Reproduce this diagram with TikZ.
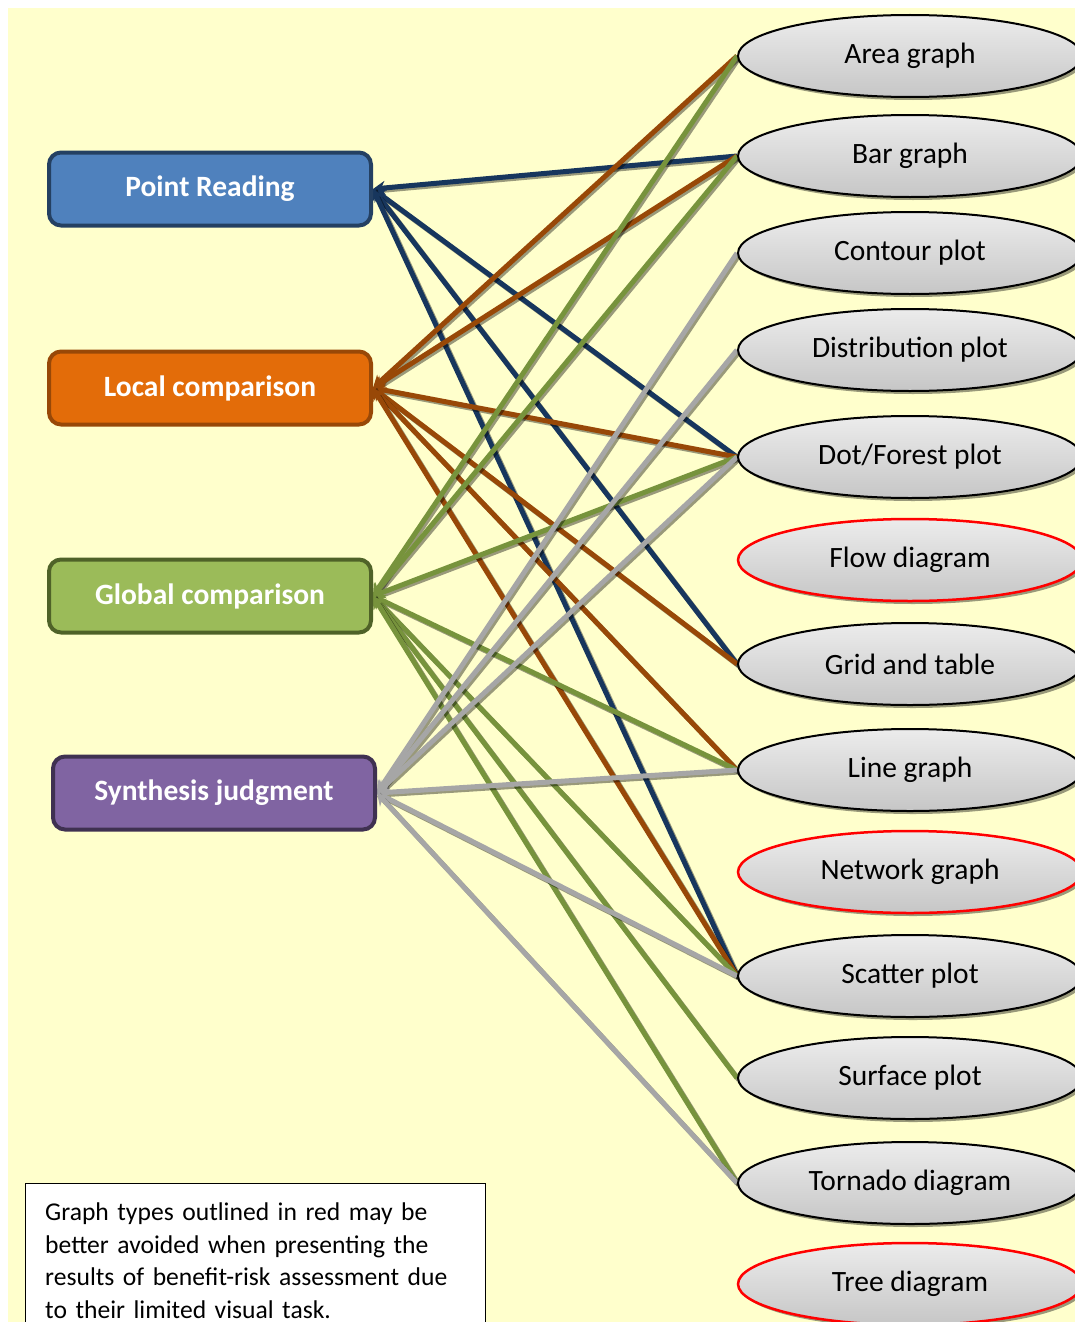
\documentclass[tikz,border=0pt]{standalone}
\usepackage{fontspec}
\setmainfont{Carlito}
\usetikzlibrary{shapes.geometric,arrows.meta,shadows}
\pgfdeclarelayer{bg}\pgfdeclarelayer{lines}\pgfsetlayers{bg,lines,main}
\definecolor{bgyellow}{RGB}{255,255,204}
\definecolor{prfill}{RGB}{79,129,189}
\definecolor{prline}{RGB}{36,64,98}
\definecolor{prconn}{RGB}{23,54,93}
\definecolor{lcfill}{RGB}{227,108,9}
\definecolor{lcline}{RGB}{152,72,7}
\definecolor{lcconn}{RGB}{152,72,7}
\definecolor{gcfill}{RGB}{155,187,89}
\definecolor{gcline}{RGB}{79,98,40}
\definecolor{gcconn}{RGB}{119,147,60}
\definecolor{sjfill}{RGB}{128,100,162}
\definecolor{sjline}{RGB}{63,49,81}
\definecolor{sjconn}{RGB}{166,166,166}
\tikzset{
  taskbox/.style={rectangle, rounded corners=12pt, line width=4pt, minimum width=322pt, minimum height=73pt, inner sep=0pt, text=white, font=\fontsize{29.5}{33}\selectfont\bfseries},
  graphtype/.style={ellipse, draw=black, line width=2pt, minimum width=344pt, minimum height=82pt, inner sep=0pt, top color={rgb,255:red,236;green,236;blue,236}, bottom color={rgb,255:red,198;green,198;blue,198}, font=\fontsize{29.5}{33}\selectfont, drop shadow={shadow xshift=3pt, shadow yshift=-3pt, fill=black, opacity=0.4}},
  avoid/.style={draw=red, line width=2.5pt},
  shadowline/.style={line width=5pt, draw=black, opacity=0.4},
  connline/.style={line width=5pt, -{Stealth[length=12pt,width=14pt]}},
  notebox/.style={rectangle, draw=black, line width=1pt, fill=white, minimum width=460pt, minimum height=200pt, inner sep=0pt, anchor=north west},
  notetext/.style={anchor=north west, inner sep=0pt, text width=440pt, align=left, font=\fontsize{25.6}{32.5}\selectfont}
}
\newcommand\conn[3]{%
  \draw[shadowline] ([shift={(2,2)}]#2.west) -- ([shift={(2,2)}]#3.east);
  \draw[connline, draw=#1] (#2.west) -- (#3.east);
}
\begin{document}
\begin{tikzpicture}[x=1pt, y=-1pt]
\useasboundingbox (0,0) rectangle (1075,1322);
\clip (0,0) rectangle (1075,1322);
\begin{pgfonlayer}{bg}
\fill[bgyellow] (8,8) rectangle (1080,1330);
\end{pgfonlayer}
% task boxes
\node[taskbox, fill=prfill, draw=prline] (pr) at (210,189) {Point Reading};
\node[taskbox, fill=lcfill, draw=lcline] (lc) at (210,388) {Local comparison};
\node[taskbox, fill=gcfill, draw=gcline] (gc) at (210,596) {Global comparison};
\node[taskbox, fill=sjfill, draw=sjline] (sj) at (214,793) {Synthesis judgment};
% graph types
\node[graphtype] (area) at (910,56) {Area graph};
\node[graphtype] (bar) at (910,156) {Bar graph};
\node[graphtype] (contour) at (910,253) {Contour plot};
\node[graphtype] (distr) at (910,350) {Distribution plot};
\node[graphtype] (dot) at (910,457) {Dot/Forest plot};
\node[graphtype, avoid] (flow) at (910,560) {Flow diagram};
\node[graphtype] (grid) at (910,664) {Grid and table};
\node[graphtype] (line) at (910,770) {Line graph};
\node[graphtype, avoid] (network) at (910,872) {Network graph};
\node[graphtype] (scatter) at (910,976) {Scatter plot};
\node[graphtype] (surface) at (910,1078) {Surface plot};
\node[graphtype] (tornado) at (910,1183) {Tornado diagram};
\node[graphtype, avoid] (tree) at (910,1284) {Tree diagram};
% connectors
\begin{pgfonlayer}{lines}
\conn{prconn}{bar}{pr}
\conn{prconn}{dot}{pr}
\conn{prconn}{grid}{pr}
\conn{prconn}{scatter}{pr}
\conn{lcconn}{area}{lc}
\conn{lcconn}{bar}{lc}
\conn{lcconn}{dot}{lc}
\conn{lcconn}{grid}{lc}
\conn{lcconn}{line}{lc}
\conn{lcconn}{scatter}{lc}
\conn{gcconn}{area}{gc}
\conn{gcconn}{bar}{gc}
\conn{gcconn}{dot}{gc}
\conn{gcconn}{line}{gc}
\conn{gcconn}{scatter}{gc}
\conn{gcconn}{surface}{gc}
\conn{gcconn}{tornado}{gc}
\conn{sjconn}{contour}{sj}
\conn{sjconn}{distr}{sj}
\conn{sjconn}{dot}{sj}
\conn{sjconn}{line}{sj}
\conn{sjconn}{scatter}{sj}
\conn{sjconn}{tornado}{sj}
\end{pgfonlayer}
% note
\node[notebox] (note) at (25,1183) {};
\node[notetext] (notetxt) at ([shift={(20,20)}]note.north west) {Graph types outlined in red may be\\better avoided when presenting the\\results of benefit-risk assessment due\\to their limited visual task.};
\end{tikzpicture}
\end{document}
